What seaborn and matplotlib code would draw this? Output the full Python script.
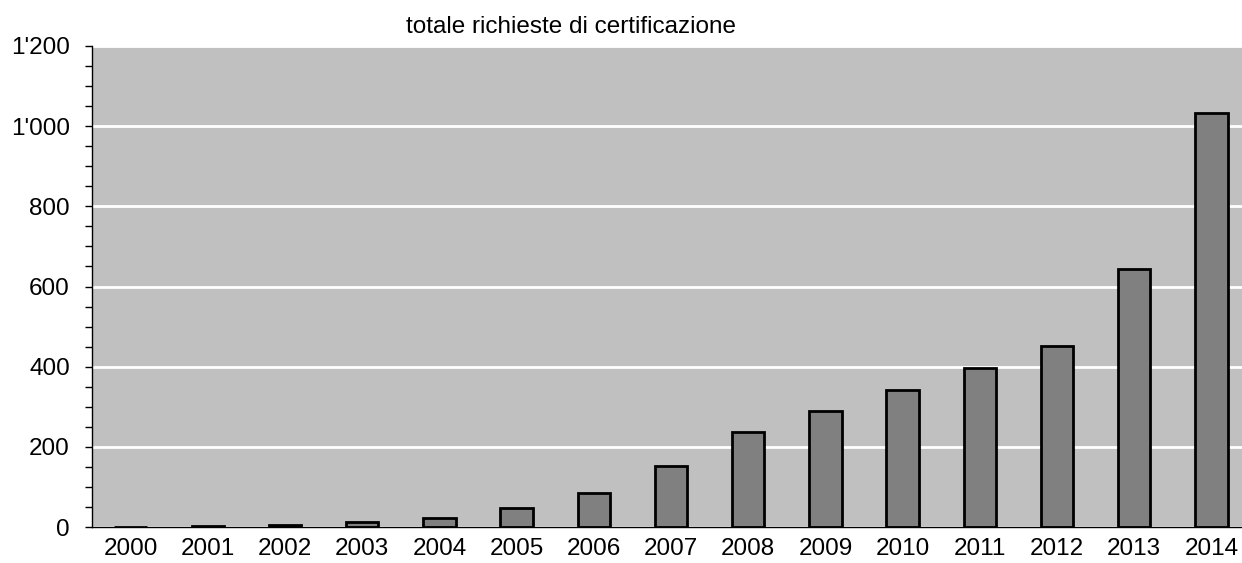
import numpy as np
import pandas as pd
import matplotlib
matplotlib.use("Agg")
import matplotlib.pyplot as plt
import seaborn as sns
from matplotlib.ticker import MultipleLocator, FuncFormatter, FixedLocator

years = ['2000', '2001', '2002', '2003', '2004', '2005', '2006', '2007',
         '2008', '2009', '2010', '2011', '2012', '2013', '2014']
richieste = [1, 2, 6, 13, 22, 47, 86, 152, 237, 289, 342, 397, 452, 644, 1034]

df = pd.DataFrame({'anno': years, 'richieste': richieste})

sns.set_style('white')
plt.rcParams['font.family'] = ['Liberation Sans', 'DejaVu Sans']
plt.rcParams['text.color'] = 'black'
plt.rcParams['xtick.color'] = 'black'
plt.rcParams['ytick.color'] = 'black'

fig = plt.figure(figsize=(12.42, 5.63), dpi=100)
ax = fig.add_axes([92 / 1242, 36 / 563, 1158 / 1242, 481 / 563])
ax.set_facecolor('#c0c0c0')

# griglia bianca sotto le barre
ax.set_axisbelow(True)
ax.yaxis.grid(True, color='white', linewidth=2)
ax.xaxis.grid(False)

sns.barplot(data=df, x='anno', y='richieste', color='#808080', saturation=1,
            width=0.42, edgecolor='black', linewidth=2, ax=ax)

ax.set_ylim(0, 1200)
ax.set_xlim(-0.5, len(years) - 0.5)
ax.yaxis.set_major_locator(MultipleLocator(200))
ax.yaxis.set_minor_locator(MultipleLocator(50))
ax.yaxis.set_major_formatter(FuncFormatter(lambda v, p: f"{int(v):,}".replace(',', "'")))

ax.xaxis.set_minor_locator(FixedLocator(np.arange(-0.5, len(years), 1.0)))
ax.tick_params(axis='x', which='major', length=0, labelsize=17.5, pad=8,
               labelcolor='black')
ax.tick_params(axis='x', which='minor', length=6, width=1, color='black', direction='out')
ax.tick_params(axis='y', which='both', length=5, width=1, color='black', direction='out',
               left=True)
ax.tick_params(axis='y', which='major', labelsize=17.5, pad=11, labelcolor='black')

for s in ['top', 'right']:
    ax.spines[s].set_visible(False)
for s in ['left', 'bottom']:
    ax.spines[s].set_color('black')
    ax.spines[s].set_linewidth(1)

ax.set_xlabel('')
ax.set_ylabel('')
fig.text(571 / 1242, 1 - 27 / 563, 'totale richieste di certificazione',
         ha='center', va='center', fontsize=17.5, color='black')

fig.savefig('out.png', dpi=100)
